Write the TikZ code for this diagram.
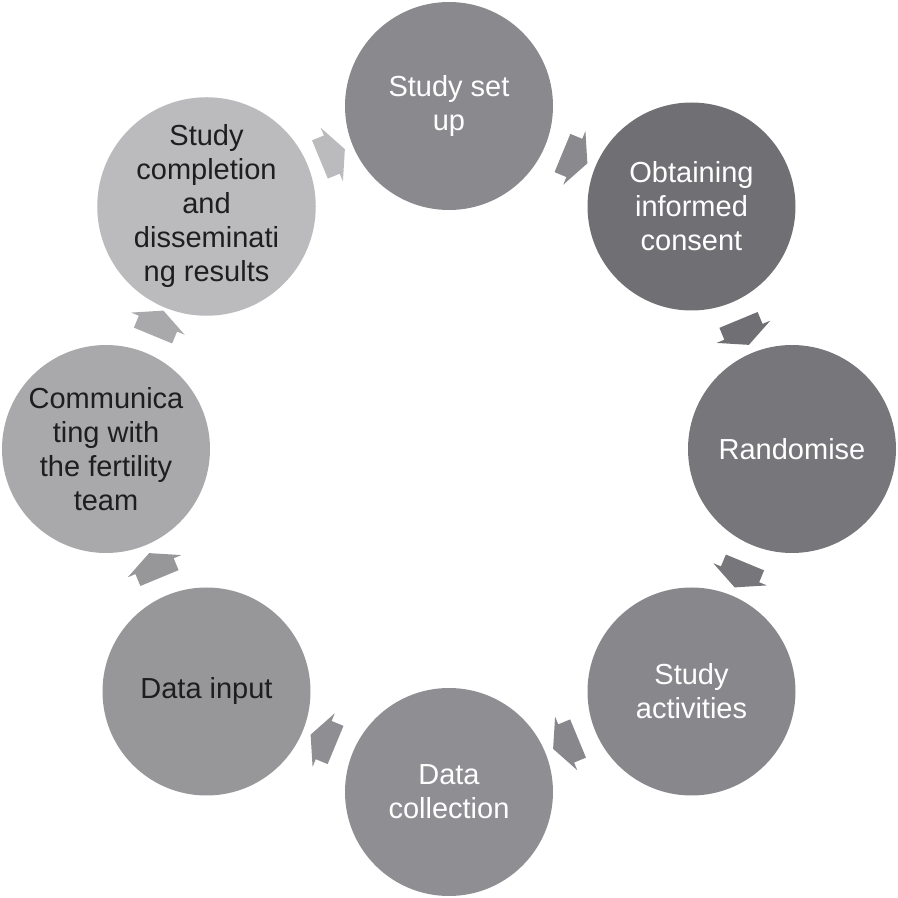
\documentclass[tikz,border=0pt]{standalone}
\usepackage{xcolor}
\usepackage{fontspec}
\setmainfont{Liberation Sans}
\usepackage{tikz}
\usetikzlibrary{shapes.arrows}
\usetikzlibrary{calc}
\definecolor{setupgray}{RGB}{138, 138, 142}
\definecolor{consentgray}{RGB}{112, 112, 116}
\definecolor{randomgray}{RGB}{119, 119, 123}
\definecolor{activitygray}{RGB}{136, 136, 140}
\definecolor{collectgray}{RGB}{143, 143, 147}
\definecolor{inputgray}{RGB}{151, 151, 154}
\definecolor{commgray}{RGB}{169, 169, 171}
\definecolor{completegray}{RGB}{187, 187, 189}
\definecolor{darktext}{RGB}{30, 30, 30}

\begin{document}
\begin{tikzpicture}[x=1pt, y=1pt,
            stage/.style = {
                circle,
                draw=none,
                text=white,
                minimum size=208pt,
                inner sep=0pt,
                align=center,
                font=\fontsize{29}{34}\selectfont,
                },
            palestage/.style = {
                stage,
                text=darktext},
            flow/.style = {
                single arrow,
                draw=none,
                inner xsep=0pt,
                inner ysep=17.5pt,
                minimum height=27pt,
                minimum width=58pt,
                single arrow tip angle=128}]
            \useasboundingbox (0,0) rectangle (898,898);
            % the eight stages, clockwise from the top
            \node[stage, fill=setupgray] (setup) at (449,792) {Study set\\up};
            \node[stage, fill=consentgray] (consent) at (691.5,691.5) {Obtaining\\informed\\consent};
            \node[stage, fill=randomgray] (random) at (792,449) {Randomise};
            \node[stage, fill=activitygray] (activity) at (691.5,206.5) {Study\\activities};
            \node[stage, fill=collectgray] (collect) at (449,106) {Data\\collection};
            \node[palestage, fill=inputgray] (input) at (206.5,206.5) {Data input};
            \node[palestage, fill=commgray] (comm) at (106,449) {Communica\\ting with\\the fertility\\team};
            \node[palestage, fill=completegray] (complete) at (206.5,691.5) {Study\\completion\\and\\disseminati\\ng results};
            % arrows between stages
            \node[flow, fill=setupgray, rotate=-22.5] (a1) at ($(setup)!0.5!(consent)$) {};
            \node[flow, fill=consentgray, rotate=-67.5] (a2) at ($(consent)!0.5!(random)$) {};
            \node[flow, fill=randomgray, rotate=-112.5] (a3) at ($(random)!0.5!(activity)$) {};
            \node[flow, fill=activitygray, rotate=-157.5] (a4) at ($(activity)!0.5!(collect)$) {};
            \node[flow, fill=collectgray, rotate=157.5] (a5) at ($(collect)!0.5!(input)$) {};
            \node[flow, fill=inputgray, rotate=112.5] (a6) at ($(input)!0.5!(comm)$) {};
            \node[flow, fill=commgray, rotate=67.5] (a7) at ($(comm)!0.5!(complete)$) {};
            \node[flow, fill=completegray, rotate=22.5] (a8) at ($(complete)!0.5!(setup)$) {};
        \end{tikzpicture}
\end{document}
